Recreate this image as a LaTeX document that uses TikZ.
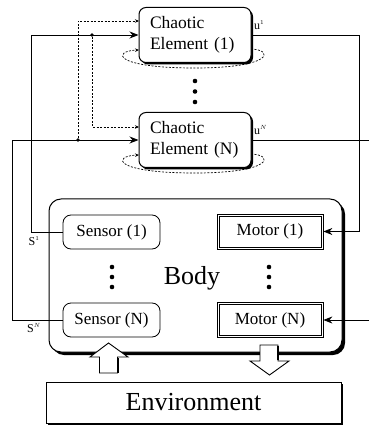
\documentclass[tikz,border=0pt]{standalone}
\usepackage{fontspec}
\setmainfont{Liberation Serif}
\usetikzlibrary{arrows.meta,shadows,calc}
\begin{document}
\begin{tikzpicture}[x=1pt,y=-1pt,
  cebox/.style={draw,line width=1pt,rounded corners=7pt,fill=white,minimum width=112pt,minimum height=55pt,
    text width=90pt,align=left,inner sep=0pt,font=\fontsize{17.5}{21.5}\selectfont,
    drop shadow={shadow xshift=2pt,shadow yshift=-2pt,fill=black,opacity=1}},
  sensbox/.style={draw,line width=0.8pt,rounded corners=8pt,fill=white,minimum width=97pt,minimum height=34pt,
    inner sep=0pt,font=\fontsize{17}{20}\selectfont},
  motbox/.style={draw,line width=0.7pt,fill=white,minimum width=106pt,minimum height=35pt,
    inner sep=0pt,font=\fontsize{17}{20}\selectfont},
  motinner/.style={line width=0.7pt},
  conn/.style={line width=0.9pt},
  sarrow/.style={conn,-{Stealth[length=9pt,width=7pt]}},
  dotline/.style={line width=0.7pt,dash pattern=on 2pt off 1.5pt},
  darrow/.style={dotline,-{Stealth[length=4pt,width=3.5pt]}},
  blob/.style={circle,fill=black,inner sep=0pt,minimum size=4.6pt},
  jdot/.style={circle,fill=black,inner sep=0pt,minimum size=3.6pt},
  lbl/.style={inner sep=0pt,font=\fontsize{12}{14}\selectfont}
]
\useasboundingbox (0,0) rectangle (369,427);

% Body
\node[draw,line width=1pt,rounded corners=12pt,fill=white,minimum width=293pt,minimum height=153pt,
  drop shadow={shadow xshift=3pt,shadow yshift=-3pt,fill=black,opacity=1}] (body) at (195.5,275.5) {};
\node[font=\fontsize{26}{30}\selectfont,inner sep=0pt] (bodyt) at (192,278) {Body};

% self loops (drawn first, so the boxes hide their upper part)
\coordinate (l1s) at (251,49);
\coordinate (l1e) at (139,50);
\draw[darrow] (l1s) .. controls (275,50) and (272,68) .. (195,68) .. controls (113,68) and (112,51) .. (l1e);
\coordinate (lNs) at (251,154);
\coordinate (lNe) at (139,155);
\draw[darrow] (lNs) .. controls (275,155) and (272,173) .. (195,173) .. controls (113,173) and (112,156) .. (lNe);

% Chaotic elements
\node[cebox] (ce1) at (195,35) {Chaotic\\Element (1)};
\node[cebox] (ceN) at (195,140) {Chaotic\\Element (N)};

% dots between CEs
\node[blob] (d1) at (195,81) {};
\node[blob] (d2) at (195,91.5) {};
\node[blob] (d3) at (195,102) {};

% Sensors / motors
\node[sensbox] (s1) at (111.5,232) {Sensor (1)};
\node[sensbox] (sN) at (111.5,320) {Sensor (N)};
\node[motbox] (m1) at (270,231.5) {Motor (1)};
\node[motbox] (mN) at (270,320) {Motor (N)};
\draw[motinner] ($(m1.north west)+(2.2,2.2)$) rectangle ($(m1.south east)+(-2.2,-2.2)$);
\draw[motinner] ($(mN.north west)+(2.2,2.2)$) rectangle ($(mN.south east)+(-2.2,-2.2)$);

\node[blob] (ld1) at (112,267) {};
\node[blob] (ld2) at (112,277) {};
\node[blob] (ld3) at (112,287) {};
\node[blob] (rd1) at (269,267) {};
\node[blob] (rd2) at (269,277) {};
\node[blob] (rd3) at (269,287) {};

% Environment
\node[draw,line width=1pt,fill=white,minimum width=295pt,minimum height=41pt,inner sep=0pt,
  font=\fontsize{26}{30}\selectfont,
  drop shadow={shadow xshift=2pt,shadow yshift=-2pt,fill=black,opacity=1}] (env) at (193.5,402.5) {Environment};

% big arrows
\draw[line width=0.9pt,fill=white] (99.5,373) -- (99.5,357) -- (90,357) -- (108.5,343) -- (128,357) -- (117.5,357) -- (117.5,373) -- cycle;
\draw[line width=2pt] (117.5,358) -- (117.5,373);
\draw[line width=0.9pt,fill=white] (260,345) -- (278,345) -- (278,361) -- (289,361) -- (269.5,375) -- (250,361) -- (260,361) -- cycle;
\draw[line width=2pt] (278,346) -- (278,360);

% sensor -> CE connectors
\coordinate (c1a) at (31,232);
\coordinate (c1b) at (31,35);
\coordinate (cNa) at (12,320);
\coordinate (cNb) at (12,140);
\draw[sarrow] (s1.west) -- (c1a) -- (c1b) -- (ce1.west);
\draw[sarrow] (sN.west) -- (cNa) -- (cNb) -- (ceN.west);
\node[jdot] (j1) at (92,35) {};
\node[jdot] (jN) at (78,140) {};

% dotted couplings
\coordinate (k1) at (92,127);
\coordinate (k1e) at (139,127);
\draw[darrow] (j1) -- (k1) -- (k1e);
\coordinate (kN) at (78,21);
\coordinate (kNe) at (139,21);
\draw[darrow] (jN) -- (kN) -- (kNe);

% outputs
\coordinate (o1a) at (359,35);
\coordinate (o1b) at (359,231.5);
\draw[sarrow] (ce1.east) -- (o1a) -- (o1b) -- (m1.east);
\coordinate (oN) at (369,140);
\draw[conn] (ceN.east) -- (oN);
\coordinate (iN) at (369,320);
\draw[sarrow] (iN) -- (mN.east);

% labels
\node[lbl,anchor=west] (u1) at (254,25) {u$^{\scriptscriptstyle 1}$};
\node[lbl,anchor=west] (uN) at (254,130) {u$^{\scriptscriptstyle N}$};
\node[lbl] (s1l) at (34,241) {S$^{\scriptscriptstyle 1}$};
\node[lbl] (sNl) at (34,328) {S$^{\scriptscriptstyle N}$};
\end{tikzpicture}
\end{document}
